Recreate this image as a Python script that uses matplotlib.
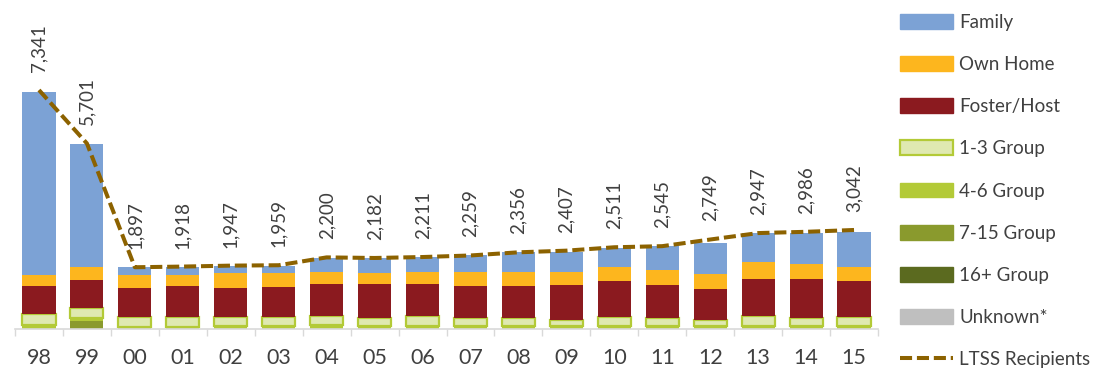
import matplotlib
matplotlib.use("Agg")
import matplotlib.pyplot as plt
from matplotlib.patches import Patch
from matplotlib.lines import Line2D
import numpy as np

plt.rcParams["font.family"] = ["Lato", "DejaVu Sans"]

# --- data ---
years = ["98", "99", "00", "01", "02", "03", "04", "05", "06",
         "07", "08", "09", "10", "11", "12", "13", "14", "15"]
ltss = [7341, 5701, 1897, 1918, 1947, 1959, 2200, 2182, 2211,
        2259, 2356, 2407, 2511, 2545, 2749, 2947, 2986, 3042]

unknown = [0] * 18
group_16 = [0] * 18
group_7_15 = [0, 255, 0, 0, 0, 0, 0, 0, 0, 0, 0, 0, 0, 0, 0, 0, 0, 0]
group_4_6 = [120, 90, 55, 55, 100, 80, 110, 105, 105,
             105, 105, 95, 95, 95, 100, 100, 100, 100]
group_1_3 = [330, 285, 320, 320, 275, 300, 290, 245, 290,
             245, 245, 185, 285, 230, 185, 285, 245, 275]
foster = [880, 880, 890, 950, 890, 900, 975, 1045, 975,
          970, 970, 1075, 1085, 1020, 930, 1150, 1200, 1085]
own_home = [330, 400, 390, 330, 450, 440, 370, 315, 370,
            440, 440, 390, 450, 460, 460, 510, 450, 450]
family = [5630, 3780, 255, 255, 225, 230, 430, 460, 470,
          500, 600, 630, 575, 745, 960, 905, 950, 1085]

# stacked bottom -> top
series = [
    ("Unknown*", unknown, dict(color="#BFBFBF")),
    ("16+ Group", group_16, dict(color="#5B6A1F")),
    ("7-15 Group", group_7_15, dict(color="#8A9A2D")),
    ("4-6 Group", group_4_6, dict(color="#B3CA37")),
    ("1-3 Group", group_1_3, dict(facecolor="#DFE9B1", edgecolor="#B3CA37", linewidth=1.6)),
    ("Foster/Host", foster, dict(color="#8B1A1F")),
    ("Own Home", own_home, dict(color="#FDB61E")),
    ("Family", family, dict(color="#7CA2D5")),
]

line_color = "#8C6200"
text_color = "#404040"
dash = (0, (3, 1.2))

fig = plt.figure(figsize=(11.12, 3.80), dpi=100)
ax = fig.add_axes([15 / 1112, 51 / 380, 863 / 1112, 319 / 380])

x = np.arange(len(years))
bottom = np.zeros(len(years))
handles = {}
for name, vals, style in series:
    vals = np.array(vals, dtype=float)
    ax.bar(x, vals, width=0.69, bottom=bottom, zorder=2, **style)
    bottom += vals
    handles[name] = Patch(**style)

ax.plot(x, ltss, color=line_color, linewidth=2.9, linestyle=dash,
        zorder=3, dash_capstyle="butt")
for xi, v in zip(x, ltss):
    ax.annotate(f"{v:,}", (xi, v), xytext=(0, 13), textcoords="offset points",
                rotation=90, ha="center", va="bottom", fontsize=13.5, color=text_color)

ax.set_xlim(-0.5, len(years) - 0.5)
ax.set_ylim(0, 9800)
ax.set_yticks([])
ax.set_xticks(x)
ax.set_xticklabels(years, fontsize=15.5, color=text_color)
ax.tick_params(axis="x", which="major", length=0, pad=14)
ax.set_xticks(np.arange(-0.5, len(years)), minor=True)
ax.tick_params(axis="x", which="minor", length=5, width=1, color="#D9D9D9")
for side in ["top", "right", "left"]:
    ax.spines[side].set_visible(False)
ax.spines["bottom"].set_color("#D9D9D9")
ax.spines["bottom"].set_linewidth(1.2)

legend_order = ["Family", "Own Home", "Foster/Host", "1-3 Group", "4-6 Group",
                "7-15 Group", "16+ Group", "Unknown*"]
leg_handles = [handles[n] for n in legend_order]
leg_handles.append(Line2D([0], [0], color=line_color, linewidth=2.9, linestyle=dash))
leg_labels = legend_order + ["LTSS Recipients"]
fig.legend(leg_handles, leg_labels, loc="upper left",
           bbox_to_anchor=(900 / 1112, 1 - 14 / 380), frameon=False,
           fontsize=13.5, handlelength=2.8, handleheight=0.85, handletextpad=0.35,
           labelspacing=1.34, borderpad=0, borderaxespad=0, labelcolor=text_color)

fig.savefig("out.png", dpi=100)
